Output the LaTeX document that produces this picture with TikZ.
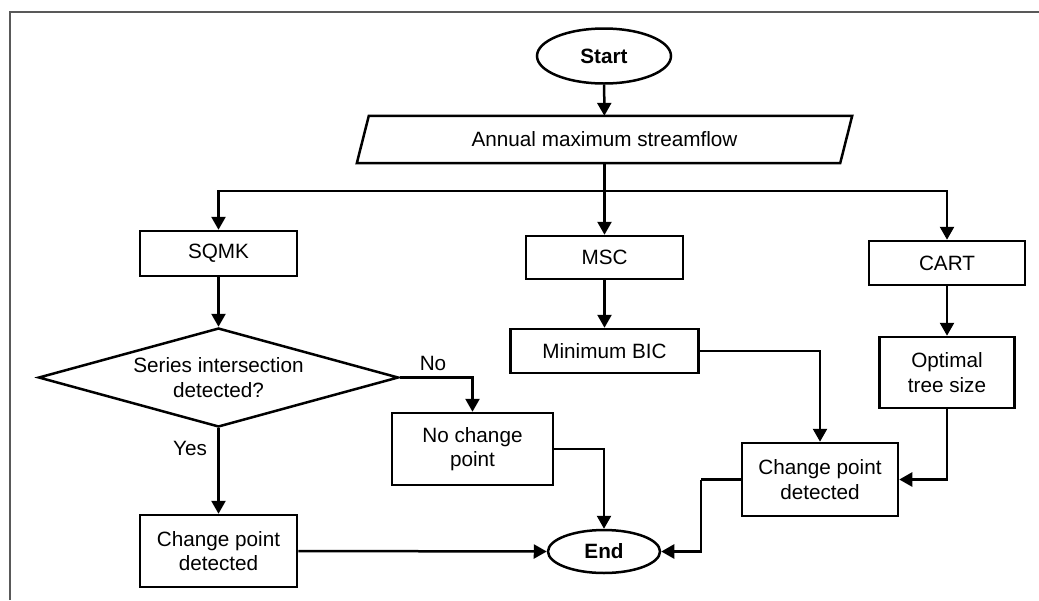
\documentclass[tikz,border=0pt]{standalone}
\usepackage{fontspec}
\setmainfont{Liberation Sans}
\usetikzlibrary{shapes.geometric,arrows.meta}
\begin{document}
\begin{tikzpicture}[x=1pt,y=-1pt,
  every node/.style={font=\fontsize{20.7}{24.5}\selectfont, inner sep=0pt, align=center},
  box/.style={draw, rectangle, line width=2.5pt},
  term/.style={draw, ellipse, line width=2.5pt, font=\fontsize{20.7}{24.5}\selectfont\bfseries},
  decide/.style={draw, diamond, line width=2.5pt, shape aspect=3.6},
  conn/.style={line width=2.5pt},
  arr/.style={conn, -{Triangle[width=14pt,length=13pt]}},
  lbl/.style={font=\fontsize{20.7}{24.5}\selectfont}
]
\useasboundingbox (0,0) rectangle (1039,600);
\draw[line width=1.3pt, color=black!65] (10,600) -- (10,12) -- (1039,12);

\node[term, minimum width=134pt, minimum height=55pt] (start) at (604,56) {Start};
\node[minimum width=483pt, minimum height=47pt] (data) at (604.5,139.5) {Annual maximum streamflow};
\draw[line width=2.5pt, line join=miter]
  ([xshift=6pt]data.north west) -- ([xshift=6pt]data.north east)
  -- ([xshift=-6pt]data.south east) -- ([xshift=-6pt]data.south west) -- cycle;

\node[box, minimum width=157pt, minimum height=45pt] (sqmk) at (218.5,253.5) {SQMK};
\node[box, minimum width=157pt, minimum height=43pt] (msc) at (604.5,257.5) {MSC};
\node[box, minimum width=156pt, minimum height=44pt] (cart) at (947,263) {CART};

\node[decide, minimum width=360pt, minimum height=99pt] (dia) at (218.5,377.5) {Series intersection\\detected?};
\node[box, minimum width=161pt, minimum height=72pt] (nocp) at (472.5,449) {No change\\point};
\node[box, minimum width=157pt, minimum height=72pt] (cpl) at (218.5,551) {Change point\\detected};
\node[term, minimum width=112pt, minimum height=43pt] (endn) at (604,551.5) {End};

\node[box, minimum width=188pt, minimum height=44pt] (bic) at (604.5,351) {Minimum BIC};
\node[box, minimum width=156pt, minimum height=73pt] (cpr) at (820,479.5) {Change point\\detected};
\node[box, minimum width=135pt, minimum height=71pt] (opt) at (947,372.5) {Optimal\\tree size};

\coordinate (br) at (604.5,191);
\coordinate (jr) at (701,479.5);

\draw[arr] (start) -- (data);
\draw[conn] (data.south) -- (br);
\draw[arr] (br) -| (sqmk.north);
\draw[arr] (br) -- (msc.north);
\draw[arr] (br) -| (cart.north);

\draw[arr] (sqmk) -- (dia);
\draw[arr] (dia.east) -| (nocp.north);
\node[lbl] (nolbl) at (433,363) {No};
\draw[arr] (dia.south) -- (cpl.north);
\node[lbl] (yeslbl) at (190,448) {Yes};
\draw[arr] (cpl.east) -- (endn.west);
\draw[arr] (nocp.east) -| (endn.north);

\draw[arr] (msc) -- (bic);
\draw[arr] (bic.east) -| (cpr.north);
\draw[arr] (cart) -- (opt);
\draw[arr] (opt.south) |- (cpr.east);
\draw[conn] (cpr.west) -- (jr);
\draw[arr] (jr) |- (endn.east);
\end{tikzpicture}
\end{document}
